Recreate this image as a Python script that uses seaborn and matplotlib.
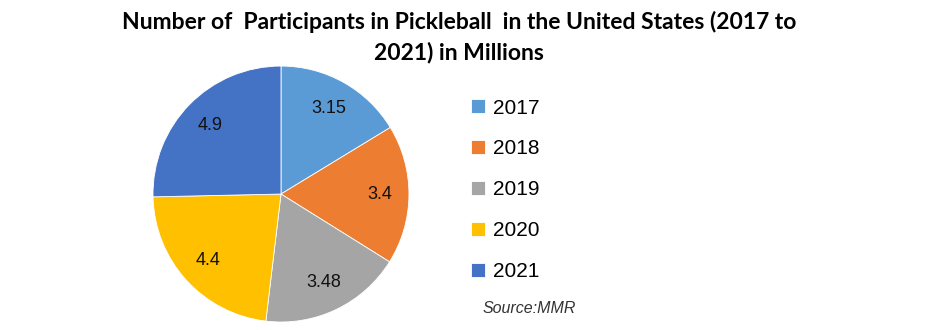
import matplotlib
matplotlib.use("Agg")
import matplotlib.pyplot as plt
import seaborn as sns

years = ["2017", "2018", "2019", "2020", "2021"]
participants = [3.15, 3.4, 3.48, 4.4, 4.9]
value_labels = ["3.15", "3.4", "3.48", "4.4", "4.9"]
colors = ["#5B9BD5", "#ED7D31", "#A5A5A5", "#FFC000", "#4472C4"]
title_text = "Number of  Participants in Pickleball  in the United States (2017 to\n2021) in Millions"
source_text = "Source:MMR"

sns.set_theme(style="white")
plt.rcParams["font.family"] = ["Liberation Sans", "DejaVu Sans"]

fig = plt.figure(figsize=(9.41, 3.30), dpi=100)
fig.patch.set_facecolor("white")
ax = fig.add_axes([0.1626, 0.024, 0.272, 0.776])
palette = sns.color_palette(colors)
wedges, texts = ax.pie(participants, labels=value_labels, colors=palette,
                       startangle=90, counterclock=False, labeldistance=0.77,
                       wedgeprops=dict(linewidth=0.6, edgecolor="white"),
                       textprops=dict(fontsize=13, color="#111111"))
for t in texts:
    t.set_ha("center")
    t.set_va("center")
ax.set_xlim(-1.0, 1.0)
ax.set_ylim(-1.0, 1.0)
ax.set_aspect("equal")

fig.text(0.488, 0.968, title_text, ha="center", va="top", fontsize=16.5,
         fontweight="bold", linespacing=1.5, color="black",
         family=["Lato", "DejaVu Sans"])

leg = fig.legend(wedges, years, loc="upper left", bbox_to_anchor=(0.481, 0.758),
                 frameon=False, handlelength=0.65, handleheight=0.65,
                 handletextpad=0.4, labelspacing=1.05,
                 prop=dict(size=15))
for t in leg.get_texts():
    t.set_color("black")
fig.text(0.513, 0.052, source_text, fontsize=11.5, style="italic", color="#333333")

fig.savefig("out.png", dpi=100, facecolor="white")
